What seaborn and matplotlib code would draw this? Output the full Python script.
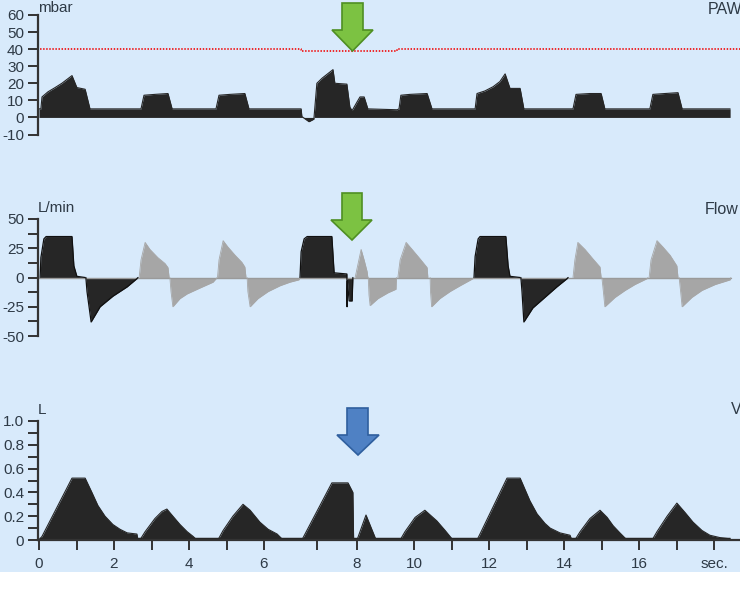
import numpy as np
import pandas as pd
import matplotlib
matplotlib.use("Agg")
import matplotlib.pyplot as plt
from matplotlib.patches import Polygon, Rectangle
import seaborn as sns

# ---------------- data ----------------
# Airway pressure (mbar)
paw_t = [0.00, 0.05, 0.08, 0.24, 0.43, 0.61, 0.88, 1.01, 1.23, 1.36,
         2.72, 2.80, 3.09, 3.44, 3.55,
         4.72, 4.80, 5.09, 5.49, 5.60,
         6.99, 7.01, 7.20, 7.33, 7.41, 7.55, 7.84, 7.89, 8.21, 8.29, 8.35, 8.48, 8.56, 8.67, 8.77, 9.55,
         9.60, 9.65, 9.89, 10.35, 10.48,
         11.63, 11.68, 11.89, 12.11, 12.29, 12.43, 12.56, 12.83, 12.93,
         14.24, 14.32, 14.69, 14.99, 15.09,
         16.29, 16.37, 16.69, 17.04, 17.15, 18.43]
paw_v = [5, 5, 12, 15, 17.5, 20, 24.5, 17.5, 16.5, 5,
         5, 13, 13.5, 14, 5,
         5, 13, 13.5, 14, 5,
         5, 0.5, -2.5, -1, 20, 23, 28, 20, 19.5, 6, 4, 9, 12, 12, 5, 4.5,
         5, 13, 13.5, 14, 5,
         5, 14, 15.5, 18, 21, 25.5, 17, 17, 5,
         5, 13.5, 14, 14, 5,
         5, 13.5, 14, 14.5, 5, 5]
paw_limit_t = [-0.05, 6.99, 6.99, 9.55, 9.55, 18.7]
paw_limit_v = [40, 40, 38.8, 38.8, 40, 40]

# Flow (L/min) - mandatory (dark) breaths
flow_mand_t = [0.03, 0.05, 0.13, 0.19, 0.88, 0.93, 1.01, 1.23,
               1.25, 1.28, 1.39, 1.63, 1.97, 2.35, 2.61, 2.64,
               6.96, 6.99, 7.07, 7.15, 7.81, 7.87, 8.21, 8.215, 8.225, 8.27, 8.35, 8.37,
               11.60, 11.63, 11.71, 11.76, 12.45, 12.51, 12.56, 12.83,
               12.85, 12.88, 12.93, 13.17, 13.49, 13.81, 14.08, 14.11]
flow_mand_v = [0, 17, 33, 35, 35, 10, 1, 0,
               0, -12, -38, -25, -16, -8, -1, 0,
               0, 22, 33, 35, 35, 4, 3, -25, -3, -20, -20, 0,
               0, 18, 33, 35, 35, 10, 1, 0,
               0, -12, -38, -26, -17, -8, -1, 0]
# Flow (L/min) - spontaneous (grey) breaths
flow_spon_t = [2.67, 2.72, 2.83, 2.96, 3.17, 3.36, 3.44, 3.47,
               3.49, 3.52, 3.57, 3.76, 3.95, 4.29, 4.64, 4.75,
               4.76, 4.80, 4.91, 5.04, 5.23, 5.41, 5.49, 5.52,
               5.55, 5.57, 5.63, 5.84, 6.11, 6.43, 6.69, 6.93, 6.96,
               8.43, 8.51, 8.59, 8.67, 8.75, 8.77,
               8.78, 8.80, 8.83, 9.04, 9.31, 9.52, 9.53,
               9.57, 9.63, 9.79, 9.95, 10.16, 10.35, 10.37,
               10.43, 10.44, 10.47, 10.69, 10.96, 11.23, 11.57, 11.60,
               14.24, 14.29, 14.37, 14.56, 14.77, 14.96, 14.99,
               15.01, 15.05, 15.09, 15.36, 15.63, 15.89, 16.21, 16.24,
               16.27, 16.32, 16.48, 16.64, 16.83, 17.01, 17.04,
               17.07, 17.11, 17.15, 17.41, 17.68, 18.03, 18.43, 18.45]
flow_spon_v = [0, 15, 30, 24, 17, 12, 8.5, 0,
               0, -12, -25, -18, -14, -9, -4, 0,
               0, 15, 31.5, 26, 19, 13, 9, 0,
               0, -12, -25, -18, -12, -7, -4, -2, 0,
               0, 12, 24, 15, 5, 0,
               0, -15, -24, -18, -13, -10, 0,
               0, 15, 30, 24, 16, 8.5, 0,
               0, -12, -25, -18, -12, -7, -1, 0,
               0, 15, 30, 24, 16, 9, 0,
               0, -12, -25, -17, -11, -6, -1, 0,
               0, 15, 31.5, 26, 19, 10, 0,
               0, -12, -25, -17, -11, -6, -2, 0]

# Volume (L)
vol_t = [0.00, 0.08, 0.88, 1.23, 1.41, 1.57, 1.76, 1.97, 2.16, 2.35, 2.61, 2.64,
         2.69, 2.83, 3.09, 3.28, 3.41, 3.57, 3.76, 3.95, 4.11, 4.21,
         4.77, 4.91, 5.17, 5.44, 5.63, 5.89, 6.11, 6.35, 6.51,
         7.01, 7.81, 8.24, 8.37, 8.39, 8.48, 8.72, 8.99,
         9.63, 9.76, 10.03, 10.29, 10.61, 10.83, 10.96, 11.04,
         11.68, 11.76, 12.48, 12.83, 13.09, 13.28, 13.49, 13.63, 13.89, 14.16, 14.21,
         14.29, 14.43, 14.69, 14.96, 15.15, 15.31, 15.49, 15.68,
         16.35, 16.48, 16.75, 17.01, 17.23, 17.44, 17.68, 17.89, 18.16, 18.43]
vol_v = [0, 0.03, 0.52, 0.52, 0.40, 0.29, 0.20, 0.13, 0.09, 0.06, 0.05, 0,
         0, 0.07, 0.18, 0.24, 0.26, 0.20, 0.13, 0.07, 0.03, 0,
         0, 0.08, 0.20, 0.30, 0.25, 0.15, 0.09, 0.05, 0,
         0, 0.48, 0.48, 0.40, 0, 0, 0.21, 0,
         0, 0.07, 0.19, 0.25, 0.16, 0.08, 0.03, 0,
         0, 0.05, 0.52, 0.52, 0.33, 0.22, 0.14, 0.10, 0.06, 0.04, 0,
         0, 0.07, 0.18, 0.25, 0.19, 0.12, 0.06, 0,
         0, 0.07, 0.20, 0.31, 0.23, 0.15, 0.08, 0.04, 0.02, 0.01]

x_tick_pos = [0, 1, 2, 3, 4, 5, 6, 7.41, 8.48, 10, 11, 12, 13, 14, 15, 16, 17, 18]
x_tick_lab = ["0", "", "2", "", "4", "", "6", "", "8", "10", "", "12", "", "14", "", "16", "", "sec."]
paw_ticks = [-10, 0, 10, 20, 30, 40, 50, 60]
paw_labels = ["-10", "0", "10", "20", "30", "40", "50", "60"]
flow_ticks = [-50, -37.5, -25, -12.5, 0, 12.5, 25, 37.5, 50]
flow_labels = ["-50", "", "-25", "", "0", "", "25", "", "50"]
vol_ticks = [0, 0.1, 0.2, 0.3, 0.4, 0.5, 0.6, 0.7, 0.8, 0.9, 1.0]
vol_labels = ["0", "", "0.2", "", "0.4", "", "0.6", "", "0.8", "", "1.0"]

# ---------------- style ----------------
BG = "#d8eafb"
DARK = "#262626"
GREY = "#a6a6a6"
TXT = "#2e3a46"
sns.set_style("ticks")
plt.rcParams["font.family"] = ["Liberation Sans", "DejaVu Sans"]

W, H = 747, 600
fig = plt.figure(figsize=(W / 100, H / 100), dpi=100)
fig.patch.set_facecolor(BG)

def fx(px):
    return px / W

def fy(py):
    return 1 - py / H

x0, x1 = 38, 740
xl = (-1 / 37.5, (x1 - 39) / 37.5)

def make_ax(top, bottom):
    ax = fig.add_axes([fx(x0), fy(bottom), (x1 - x0) / W, (bottom - top) / H])
    ax.set_facecolor("none")
    ax.set_xlim(*xl)
    for s in ["top", "right", "bottom"]:
        ax.spines[s].set_visible(False)
    ax.spines["left"].set_color("#333333")
    ax.spines["left"].set_linewidth(1.6)
    ax.tick_params(axis="y", direction="out", length=7.5, width=1.4, color="#333333",
                   pad=2.5, labelsize=11, labelcolor=TXT)
    ax.set_xticks([])
    return ax

def breath_frame(t, v):
    """Split a trace into breaths: a new breath starts after two consecutive zeros."""
    df = pd.DataFrame({"t": t, "v": v})
    zero = df["v"].eq(0)
    new = zero & zero.shift(1, fill_value=False)
    df["breath"] = new.cumsum()
    return df

# Pressure panel
ax1 = make_ax(15, 134.5)
ax1.set_ylim(-10, 60)
ax1.fill_between(paw_t, 0, paw_v, color=DARK, lw=0)
sns.lineplot(x=paw_t, y=paw_v, ax=ax1, color=DARK, lw=0.8, sort=False, estimator=None)
ax1.plot(paw_limit_t, paw_limit_v, color="#f01818", lw=1.3, ls=(0, (0.8, 0.9)))
ax1.set_yticks(paw_ticks)
ax1.set_yticklabels(paw_labels)
ax1.set_xlabel(""); ax1.set_ylabel("")

# Flow panel
ax2 = make_ax(219, 336)
ax2.set_ylim(-50, 50)
ax2.plot([0, 18.45], [0, 0], color="#9a9a9a", lw=1.0)
ax2.fill_between(flow_spon_t, 0, flow_spon_v, color=GREY, lw=0)
sns.lineplot(data=breath_frame(flow_spon_t, flow_spon_v), x="t", y="v", units="breath",
             ax=ax2, color=GREY, lw=0.6, sort=False, estimator=None)
ax2.fill_between(flow_mand_t, 0, flow_mand_v, color=DARK, lw=0)
sns.lineplot(data=breath_frame(flow_mand_t, flow_mand_v), x="t", y="v", units="breath",
             ax=ax2, color="#111111", lw=0.9, sort=False, estimator=None)
ax2.set_yticks(flow_ticks)
ax2.set_yticklabels(flow_labels)
ax2.set_xlabel(""); ax2.set_ylabel("")

# Volume panel
ax3 = make_ax(421, 540)
ax3.set_ylim(0, 1.0)
ax3.fill_between(vol_t, 0, vol_v, color=DARK, lw=0)
sns.lineplot(x=vol_t, y=vol_v, ax=ax3, color=DARK, lw=0.8, sort=False, estimator=None)
ax3.plot([0, 18.43], [0.005, 0.005], color=DARK, lw=2.5, solid_capstyle="butt")
ax3.set_yticks(vol_ticks)
ax3.set_yticklabels(vol_labels)
ax3.spines["bottom"].set_visible(True)
ax3.spines["bottom"].set_color("#333333")
ax3.spines["bottom"].set_linewidth(1.6)
ax3.set_xticks(x_tick_pos)
ax3.set_xticklabels(x_tick_lab)
ax3.tick_params(axis="x", direction="out", length=7, width=1.4, color="#333333",
                pad=5, labelsize=11, labelcolor=TXT)
ax3.set_xlim(*xl)
ax3.set_xlabel(""); ax3.set_ylabel("")

# Unit / channel labels
fig.text(fx(38), fy(8), "mbar", fontsize=11, color=TXT, va="center", ha="left")
fig.text(fx(38), fy(208), "L/min", fontsize=11, color=TXT, va="center", ha="left")
fig.text(fx(38), fy(410), "L", fontsize=11, color=TXT, va="center", ha="left")
fig.text(fx(708), fy(10), "PAW", fontsize=11.5, color=TXT, va="center", ha="left")
fig.text(fx(705), fy(210), "Flow", fontsize=11.5, color=TXT, va="center", ha="left")
fig.text(fx(731), fy(410), "V", fontsize=11.5, color=TXT, va="center", ha="left")

# Arrows
def arrow(pts, face, edge):
    poly = Polygon([(fx(x), fy(y)) for x, y in pts], closed=True, transform=fig.transFigure,
                   facecolor=face, edgecolor=edge, lw=1.2, zorder=5)
    fig.add_artist(poly)

arrow([(342, 3), (363, 3), (363, 30), (373, 30), (352.5, 51), (332, 30), (342, 30)], "#7cc242", "#4f8f23")
arrow([(342, 193), (362, 193), (362, 220), (372, 220), (352, 240), (331, 220), (342, 220)], "#7cc242", "#4f8f23")
arrow([(347, 408), (368, 408), (368, 435), (379, 435), (358, 455), (337, 435), (347, 435)], "#4f81c4", "#2f5f9e")

# white margins (right and bottom)
fig.add_artist(Rectangle((fx(740), 0), 1 - fx(740), 1, transform=fig.transFigure,
                         facecolor="white", edgecolor="none", zorder=10))
fig.add_artist(Rectangle((0, 0), 1, fy(572), transform=fig.transFigure,
                         facecolor="white", edgecolor="none", zorder=10))

fig.savefig("out.png", dpi=100, facecolor=fig.get_facecolor())
